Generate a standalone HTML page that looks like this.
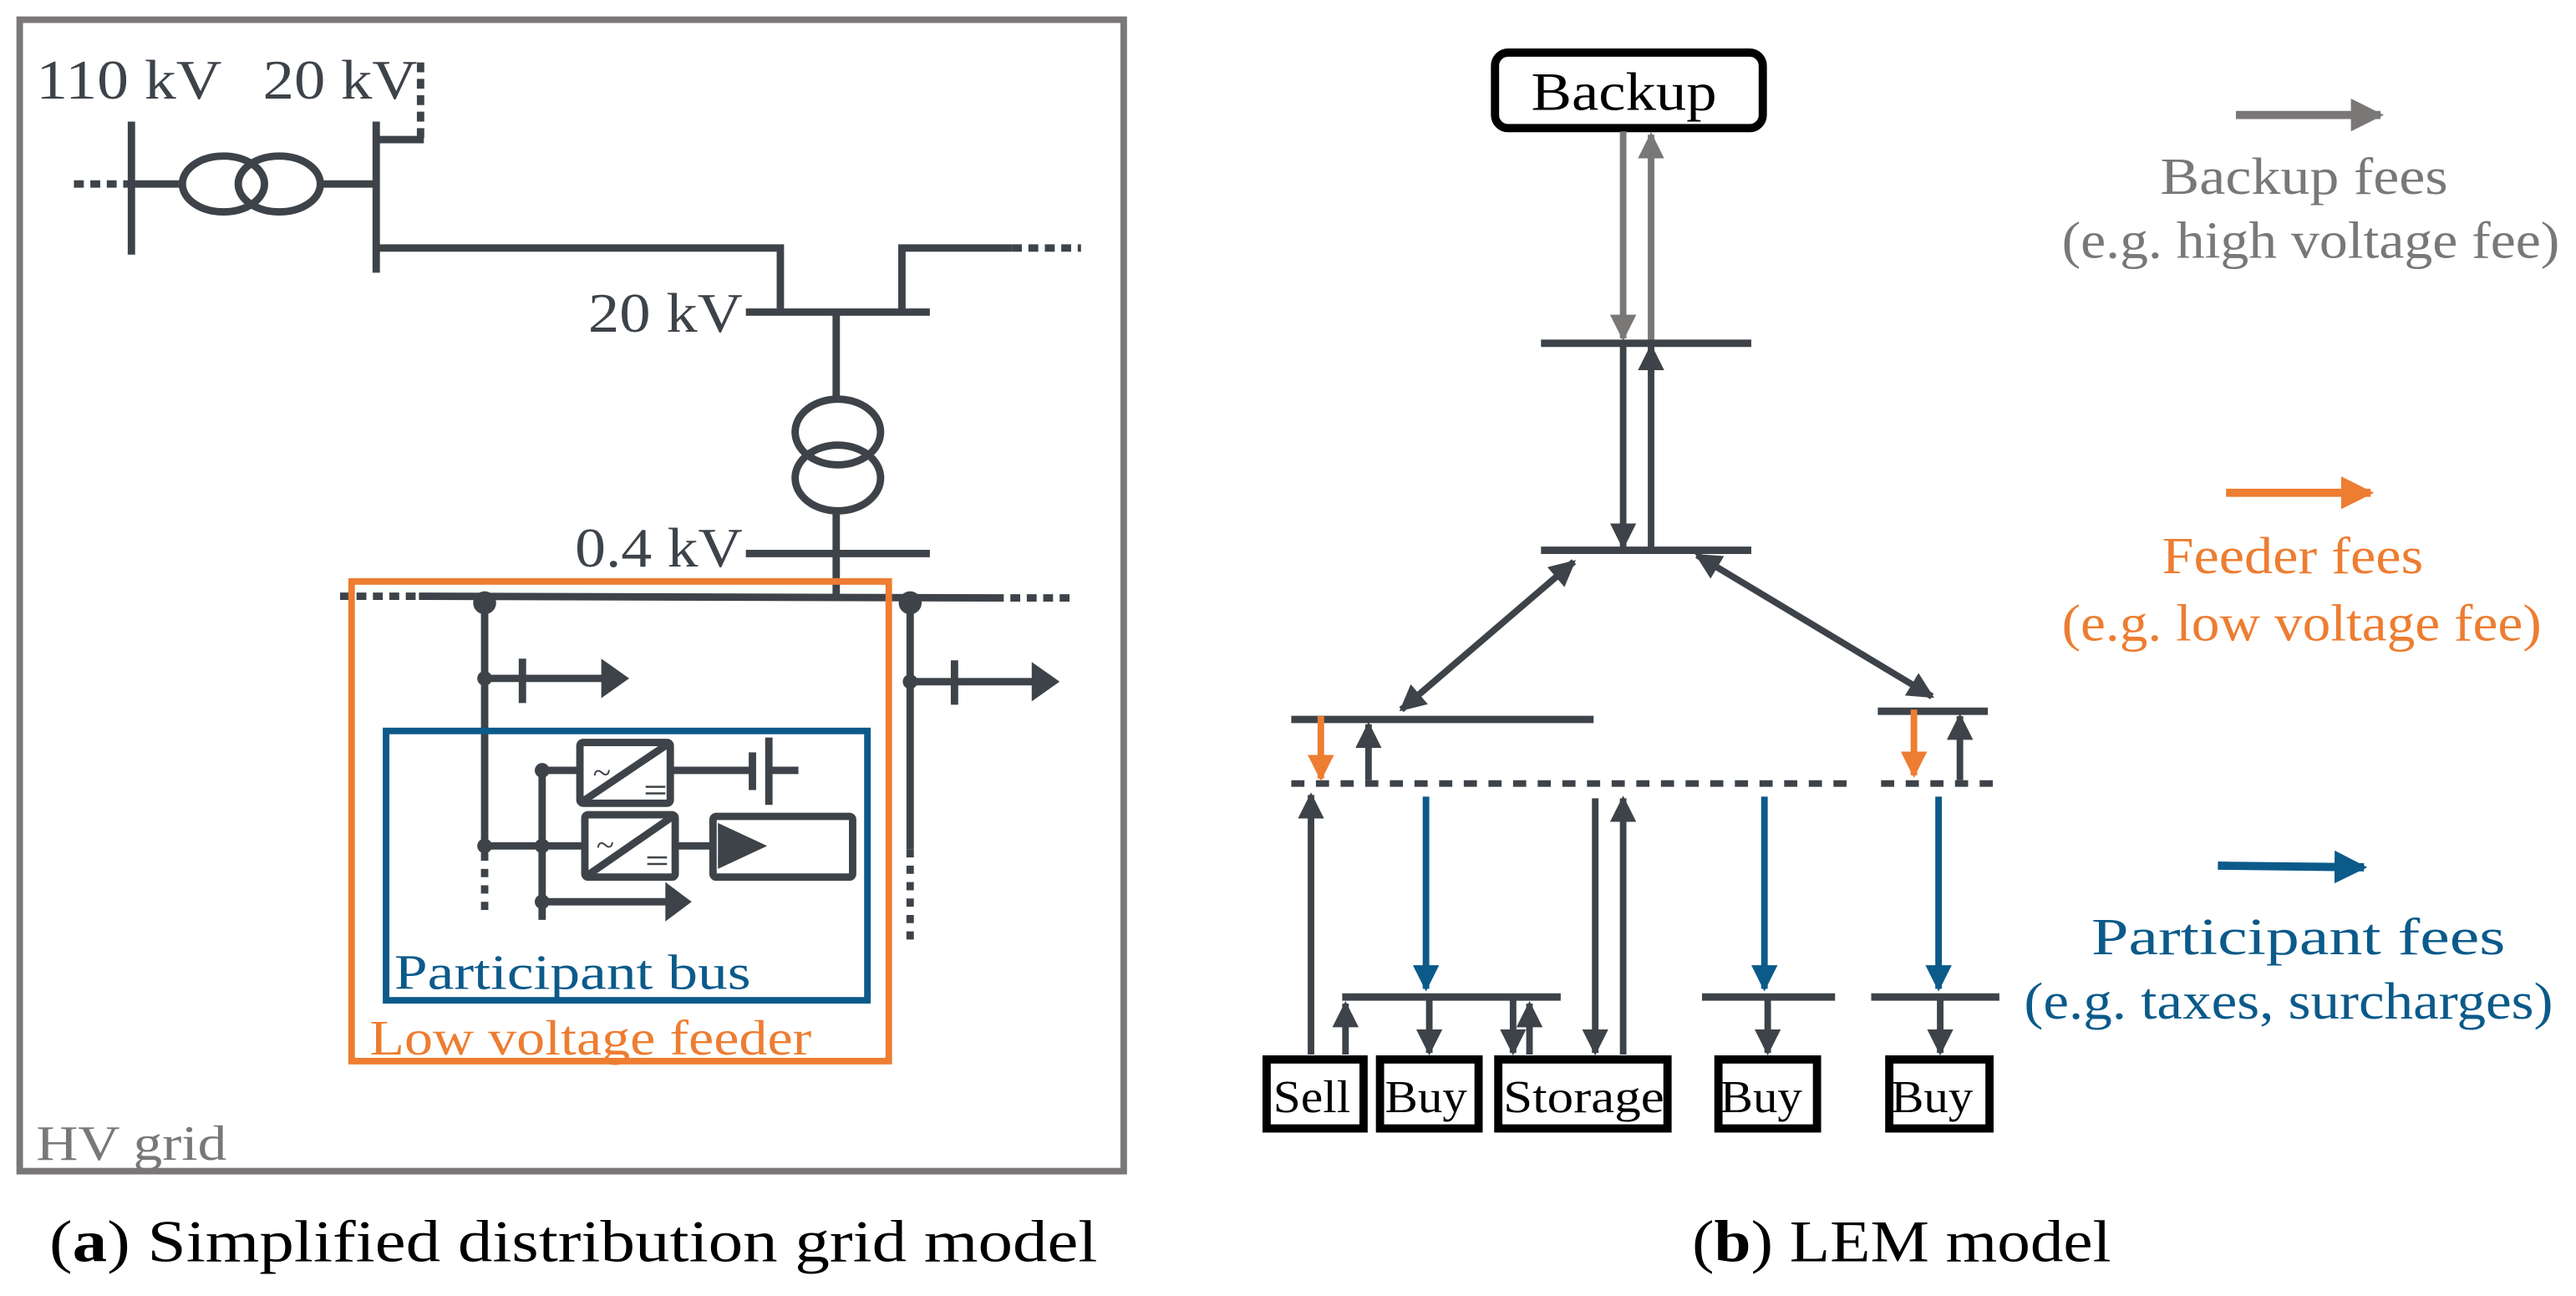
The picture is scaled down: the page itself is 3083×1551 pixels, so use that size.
<!DOCTYPE html>
<html><head><meta charset="utf-8"><style>
html,body{margin:0;padding:0;background:#fff;}
svg{display:block;}
text{font-family:"Liberation Serif",serif;}
</style></head><body>
<svg width="3083" height="1551" viewBox="0 0 1568 789" preserveAspectRatio="none" xmlns="http://www.w3.org/2000/svg">
<defs>
<marker id="hd" viewBox="0 0 10 10" refX="9" refY="5" markerWidth="4" markerHeight="4" orient="auto-start-reverse" markerUnits="strokeWidth"><path d="M0,0 L10,5 L0,10 z" fill="#3d4349"/></marker>
<marker id="hg" viewBox="0 0 10 10" refX="9" refY="5" markerWidth="4" markerHeight="4" orient="auto-start-reverse" markerUnits="strokeWidth"><path d="M0,0 L10,5 L0,10 z" fill="#7a7777"/></marker>
<marker id="ho" viewBox="0 0 10 10" refX="9" refY="5" markerWidth="4" markerHeight="4" orient="auto-start-reverse" markerUnits="strokeWidth"><path d="M0,0 L10,5 L0,10 z" fill="#ed7d31"/></marker>
<marker id="hb" viewBox="0 0 10 10" refX="9" refY="5" markerWidth="4" markerHeight="4" orient="auto-start-reverse" markerUnits="strokeWidth"><path d="M0,0 L10,5 L0,10 z" fill="#0b5a8a"/></marker>
</defs>
<rect width="1568" height="789" fill="#fff"/>

<!-- LEFT PANEL -->
<rect x="12" y="12" width="672" height="701" fill="none" stroke="#7a7777" stroke-width="4"/>
<g fill="#3d4349" font-size="34">
<text x="22" y="60" textLength="113" lengthAdjust="spacingAndGlyphs">110 kV</text>
<text x="160" y="60" textLength="94" lengthAdjust="spacingAndGlyphs">20 kV</text>
<text x="358" y="202" textLength="94" lengthAdjust="spacingAndGlyphs">20 kV</text>
<text x="350" y="345" textLength="102" lengthAdjust="spacingAndGlyphs">0.4 kV</text>
</g>
<g stroke="#3d4349" stroke-width="4.5" fill="none">
<line x1="256" y1="38" x2="256" y2="85" stroke-dasharray="6 4"/>
<line x1="229" y1="85" x2="258" y2="85"/>
<line x1="45" y1="112" x2="78" y2="112" stroke-dasharray="6 4"/>
<line x1="80" y1="74" x2="80" y2="155"/>
<line x1="80" y1="112" x2="111" y2="112"/>
<ellipse cx="136" cy="112" rx="25" ry="17"/>
<ellipse cx="170" cy="112" rx="25" ry="17"/>
<line x1="195" y1="112" x2="227" y2="112"/>
<line x1="229" y1="74" x2="229" y2="166"/>
<polyline points="229,151 475,151 475,190"/>
<line x1="454" y1="190" x2="566" y2="190"/>
<polyline points="549,190 549,151 616,151"/>
<line x1="616" y1="151" x2="658" y2="151" stroke-dasharray="6 4"/>
<line x1="509" y1="190" x2="509" y2="243"/>
<ellipse cx="510" cy="263" rx="26" ry="20"/>
<ellipse cx="510" cy="291" rx="26" ry="20"/>
<line x1="509" y1="311" x2="509" y2="363"/>
<line x1="454" y1="337" x2="566" y2="337"/>
<line x1="207" y1="363" x2="255" y2="363" stroke-dasharray="6 4"/>
<line x1="255" y1="363" x2="605" y2="364"/>
<line x1="605" y1="364" x2="652" y2="364" stroke-dasharray="6 4"/>
<line x1="295" y1="367" x2="295" y2="519"/>
<line x1="295" y1="519" x2="295" y2="557" stroke-dasharray="5 5"/>
<line x1="554" y1="367" x2="554" y2="517"/>
<line x1="554" y1="517" x2="554" y2="577" stroke-dasharray="5 5"/>
<line x1="295" y1="413" x2="368" y2="413"/>
<line x1="318" y1="401" x2="318" y2="428"/>
<line x1="554" y1="415" x2="630" y2="415"/>
<line x1="581" y1="402" x2="581" y2="429"/>
<line x1="330" y1="469" x2="330" y2="560"/>
<line x1="330" y1="469" x2="352" y2="469"/>
<line x1="295" y1="515" x2="356" y2="515"/>
<line x1="330" y1="549" x2="406" y2="549"/>
<rect x="353" y="452" width="55" height="37" rx="2"/>
<line x1="353" y1="489" x2="408" y2="452"/>
<rect x="356" y="496" width="55" height="38" rx="2"/>
<line x1="356" y1="534" x2="411" y2="496"/>
<line x1="408" y1="469" x2="458" y2="469"/>
<line x1="458" y1="458" x2="458" y2="481"/>
<line x1="468" y1="449" x2="468" y2="490"/>
<line x1="468" y1="469" x2="486" y2="469"/>
<line x1="411" y1="515" x2="434" y2="515"/>
<rect x="434" y="497" width="85" height="37" rx="2"/>
</g>
<g fill="#3d4349">
<circle cx="295" cy="367" r="7"/><circle cx="554" cy="367" r="7"/>
<circle cx="295" cy="413" r="4.5"/><circle cx="554" cy="415" r="4.5"/>
<circle cx="330" cy="469" r="4.5"/><circle cx="295" cy="515" r="4.5"/>
<circle cx="330" cy="515" r="4.5"/><circle cx="330" cy="549" r="4.5"/>
<polygon points="366,401 383,413 366,425"/>
<polygon points="628,403 645,415 628,427"/>
<polygon points="405,537 421,549 405,561"/>
<polygon points="437,501 467,515 437,529"/>
<text x="361" y="477" font-size="20">~</text>
<text x="363" y="521" font-size="20">~</text>
</g>
<g stroke="#3d4349" stroke-width="1.3"><line x1="393" y1="479" x2="405" y2="479"/><line x1="393" y1="483" x2="405" y2="483"/><line x1="394" y1="522" x2="406" y2="522"/><line x1="394" y1="526" x2="406" y2="526"/></g>
<rect x="235" y="445" width="293" height="164" fill="none" stroke="#0b5a8a" stroke-width="4"/>
<rect x="214" y="354" width="327" height="292" fill="none" stroke="#ed7d31" stroke-width="4"/>
<text x="240" y="602" font-size="30" fill="#0b5a8a" textLength="217" lengthAdjust="spacingAndGlyphs">Participant bus</text>
<text x="225" y="642" font-size="30" fill="#ed7d31" textLength="269" lengthAdjust="spacingAndGlyphs">Low voltage feeder</text>
<text x="22" y="706" font-size="30" fill="#7a7777" textLength="116" lengthAdjust="spacingAndGlyphs">HV grid</text>
<text x="30" y="768" font-size="36" fill="#000" textLength="638" lengthAdjust="spacingAndGlyphs">(<tspan font-weight="bold">a</tspan>) Simplified distribution grid model</text>

<!-- RIGHT PANEL -->
<rect x="910" y="32" width="163" height="46" rx="8" fill="none" stroke="#000" stroke-width="5"/>
<text x="932" y="67" font-size="33" fill="#000" textLength="113" lengthAdjust="spacingAndGlyphs">Backup</text>
<g stroke-width="4" fill="none">
<line x1="988" y1="80" x2="988" y2="206" stroke="#7a7777" marker-end="url(#hg)"/>
<line x1="1005" y1="208" x2="1005" y2="82" stroke="#7a7777" marker-end="url(#hg)"/>
<g stroke="#3d4349">
<line x1="938" y1="209" x2="1066" y2="209" stroke-width="4.5"/>
<line x1="938" y1="335" x2="1066" y2="335" stroke-width="4.5"/>
<line x1="988" y1="211" x2="988" y2="333" marker-end="url(#hd)"/>
<line x1="1005" y1="335" x2="1005" y2="211" marker-end="url(#hd)"/>
<line x1="958" y1="342" x2="853" y2="432" marker-start="url(#hd)" marker-end="url(#hd)"/>
<line x1="1033" y1="338" x2="1176" y2="424" marker-start="url(#hd)" marker-end="url(#hd)"/>
<line x1="786" y1="438" x2="970" y2="438" stroke-width="4.5"/>
<line x1="1143" y1="433" x2="1210" y2="433" stroke-width="4.5"/>
<line x1="833" y1="475" x2="833" y2="441" marker-end="url(#hd)"/>
<line x1="1193" y1="475" x2="1193" y2="436" marker-end="url(#hd)"/>
<line x1="786" y1="477" x2="1130" y2="477" stroke-dasharray="8 7"/>
<line x1="1145" y1="477" x2="1214" y2="477" stroke-dasharray="8 7"/>
<line x1="798" y1="642" x2="798" y2="484" marker-end="url(#hd)"/>
<line x1="971" y1="486" x2="971" y2="641" marker-end="url(#hd)"/>
<line x1="988" y1="642" x2="988" y2="486" marker-end="url(#hd)"/>
<line x1="817" y1="607" x2="950" y2="607" stroke-width="4.5"/>
<line x1="1036" y1="607" x2="1117" y2="607" stroke-width="4.5"/>
<line x1="1139" y1="607" x2="1217" y2="607" stroke-width="4.5"/>
<line x1="819" y1="642" x2="819" y2="611" marker-end="url(#hd)"/>
<line x1="870" y1="609" x2="870" y2="641" marker-end="url(#hd)"/>
<line x1="921" y1="609" x2="921" y2="641" marker-end="url(#hd)"/>
<line x1="931" y1="642" x2="931" y2="611" marker-end="url(#hd)"/>
<line x1="1076" y1="609" x2="1076" y2="641" marker-end="url(#hd)"/>
<line x1="1181" y1="609" x2="1181" y2="641" marker-end="url(#hd)"/>
</g>
<line x1="804" y1="436" x2="804" y2="474" stroke="#ed7d31" marker-end="url(#ho)"/>
<line x1="1165" y1="432" x2="1165" y2="472" stroke="#ed7d31" marker-end="url(#ho)"/>
<g stroke="#0b5a8a">
<line x1="868" y1="485" x2="868" y2="602" marker-end="url(#hb)"/>
<line x1="1074" y1="485" x2="1074" y2="602" marker-end="url(#hb)"/>
<line x1="1180" y1="485" x2="1180" y2="602" marker-end="url(#hb)"/>
</g>
<line x1="1361" y1="70" x2="1449" y2="70" stroke="#7a7777" stroke-width="5" marker-end="url(#hg)"/>
<line x1="1355" y1="300" x2="1443" y2="300" stroke="#ed7d31" stroke-width="5" marker-end="url(#ho)"/>
<line x1="1350" y1="527" x2="1439" y2="528" stroke="#0b5a8a" stroke-width="5" marker-end="url(#hb)"/>
</g>
<g stroke="#000" stroke-width="5" fill="none">
<rect x="771" y="645" width="59" height="42"/>
<rect x="840" y="645" width="60" height="42"/>
<rect x="912" y="645" width="103" height="42"/>
<rect x="1046" y="645" width="60" height="42"/>
<rect x="1150" y="645" width="61" height="42"/>
</g>
<g font-size="28" fill="#000">
<text x="775" y="677" textLength="47" lengthAdjust="spacingAndGlyphs">Sell</text>
<text x="843" y="677" textLength="50" lengthAdjust="spacingAndGlyphs">Buy</text>
<text x="915" y="677" textLength="98" lengthAdjust="spacingAndGlyphs">Storage</text>
<text x="1047" y="677" textLength="50" lengthAdjust="spacingAndGlyphs">Buy</text>
<text x="1151" y="677" textLength="50" lengthAdjust="spacingAndGlyphs">Buy</text>
</g>
<g font-size="32">
<text x="1315" y="118" fill="#7a7777" textLength="175" lengthAdjust="spacingAndGlyphs">Backup fees</text>
<text x="1255" y="157" fill="#7a7777" textLength="303" lengthAdjust="spacingAndGlyphs">(e.g. high voltage fee)</text>
<text x="1316" y="349" fill="#ed7d31" textLength="159" lengthAdjust="spacingAndGlyphs">Feeder fees</text>
<text x="1255" y="390" fill="#ed7d31" textLength="292" lengthAdjust="spacingAndGlyphs">(e.g. low voltage fee)</text>
<text x="1273" y="581" fill="#0b5a8a" textLength="252" lengthAdjust="spacingAndGlyphs">Participant fees</text>
<text x="1232" y="620" fill="#0b5a8a" textLength="322" lengthAdjust="spacingAndGlyphs">(e.g. taxes, surcharges)</text>
</g>
<text x="1030" y="768" font-size="36" fill="#000" textLength="255" lengthAdjust="spacingAndGlyphs">(<tspan font-weight="bold">b</tspan>) LEM model</text>
</svg>
</body></html>
